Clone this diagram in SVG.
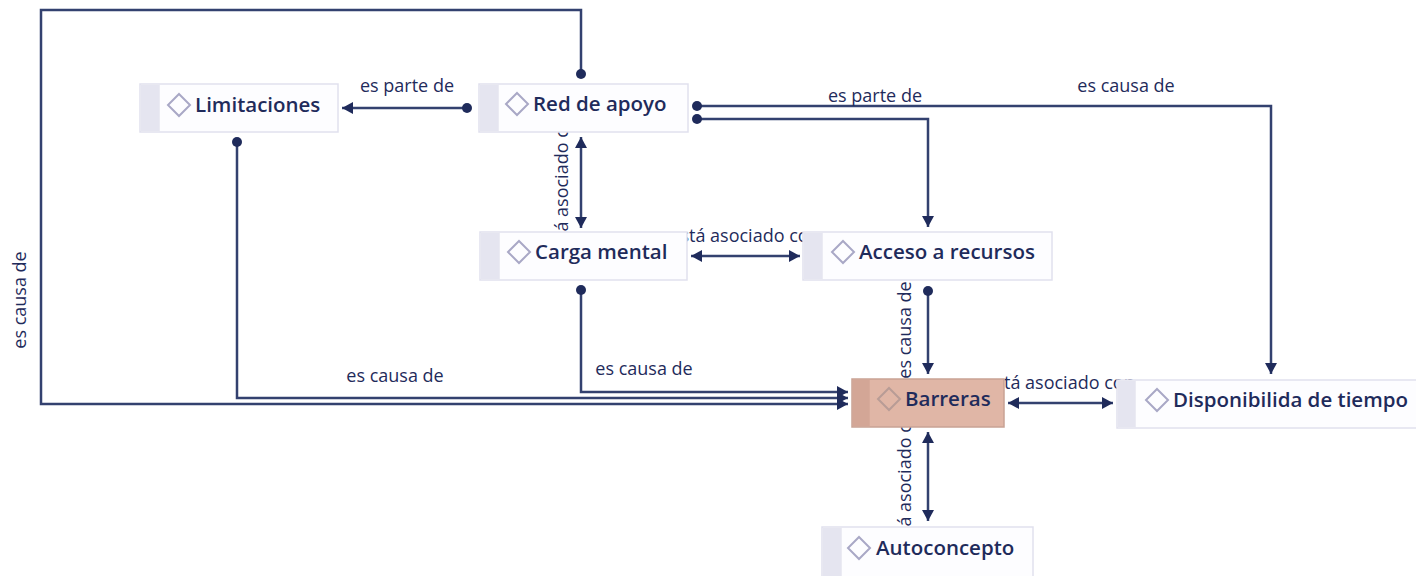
<svg xmlns="http://www.w3.org/2000/svg" width="1416" height="576" viewBox="0 0 1416 576">
<defs>
<style>
.ln{fill:none;stroke:#33416f;stroke-width:2.5}
.lb{font-family:"Open Sans","DejaVu Sans",sans-serif;font-size:18px;fill:#1f2b5b}
.nb{fill:#fdfdff;stroke:#e1e1ee;stroke-width:1.5}
.st{fill:#e5e5f0}
.dm{fill:none;stroke:#a9a8c6;stroke-width:2}
.nt{font-family:"Open Sans","DejaVu Sans",sans-serif;font-size:20.5px;font-weight:600;fill:#1f2b5b}
</style>
<marker id="ah" markerUnits="userSpaceOnUse" markerWidth="12" markerHeight="12" refX="11" refY="6" orient="auto-start-reverse"><path d="M0,0 L11,6 L0,12 z" fill="#1f2b5b"/></marker>
<marker id="dt" markerUnits="userSpaceOnUse" markerWidth="12" markerHeight="12" refX="6" refY="6"><circle cx="6" cy="6" r="5" fill="#1f2b5b"/></marker>
</defs>
<rect width="1416" height="576" fill="#ffffff"/>
<g id="connectors">
<path class="ln" d="M581,74 V10 H41 V404 H848" marker-start="url(#dt)" marker-end="url(#ah)"/>
<text class="lb" text-anchor="middle" transform="translate(26,300) rotate(-90)">es causa de</text>
<path class="ln" d="M467,108 H342" marker-start="url(#dt)" marker-end="url(#ah)"/>
<text class="lb" x="407" y="92" text-anchor="middle">es parte de</text>
<path class="ln" d="M581,137 V228" marker-start="url(#ah)" marker-end="url(#ah)"/>
<text class="lb" text-anchor="middle" transform="translate(568,182) rotate(-90)">está asociado con</text>
<path class="ln" d="M691,256 H800" marker-start="url(#ah)" marker-end="url(#ah)"/>
<text class="lb" x="745" y="242" text-anchor="middle">está asociado con</text>
<path class="ln" d="M697,106 H1271 V374" marker-start="url(#dt)" marker-end="url(#ah)"/>
<text class="lb" x="1126" y="92" text-anchor="middle">es causa de</text>
<path class="ln" d="M697,119 H928 V227" marker-start="url(#dt)" marker-end="url(#ah)"/>
<text class="lb" x="875" y="102" text-anchor="middle">es parte de</text>
<path class="ln" d="M928,291 V374" marker-start="url(#dt)" marker-end="url(#ah)"/>
<text class="lb" text-anchor="middle" transform="translate(911,330) rotate(-90)">es causa de</text>
<path class="ln" d="M1008,403 H1113" marker-start="url(#ah)" marker-end="url(#ah)"/>
<text class="lb" x="1060" y="389" text-anchor="middle">está asociado con</text>
<path class="ln" d="M928,432 V521" marker-start="url(#ah)" marker-end="url(#ah)"/>
<text class="lb" text-anchor="middle" transform="translate(911,477) rotate(-90)">está asociado con</text>
<path class="ln" d="M237,142 V398 H848" marker-start="url(#dt)" marker-end="url(#ah)"/>
<text class="lb" x="395" y="382" text-anchor="middle">es causa de</text>
<path class="ln" d="M581,290 V392 H848" marker-start="url(#dt)" marker-end="url(#ah)"/>
<text class="lb" x="644" y="375" text-anchor="middle">es causa de</text>
</g>
<g id="node-limitaciones">
<rect class="nb" x="140" y="84" width="198" height="48"/>
<rect class="st" x="140.75" y="84.75" width="19" height="46.5"/>
<path class="dm" d="M179,94 L190,105 L179,116 L168,105 z"/>
<text class="nt" x="195" y="112">Limitaciones</text>
</g>
<g id="node-red-de-apoyo">
<rect class="nb" x="479" y="84" width="209" height="48"/>
<rect class="st" x="479.75" y="84.75" width="19" height="46.5"/>
<path class="dm" d="M517,93 L528,104 L517,115 L506,104 z"/>
<text class="nt" x="533" y="111">Red de apoyo</text>
</g>
<g id="node-carga-mental">
<rect class="nb" x="480" y="232" width="207" height="48"/>
<rect class="st" x="480.75" y="232.75" width="19" height="46.5"/>
<path class="dm" d="M519,241 L530,252 L519,263 L508,252 z"/>
<text class="nt" x="535" y="259">Carga mental</text>
</g>
<g id="node-acceso-a-recursos">
<rect class="nb" x="803" y="232" width="249" height="48"/>
<rect class="st" x="803.75" y="232.75" width="19" height="46.5"/>
<path class="dm" d="M843,241 L854,252 L843,263 L832,252 z"/>
<text class="nt" x="859" y="259">Acceso a recursos</text>
</g>
<g id="node-barreras">
<rect x="852" y="379" width="152" height="48" fill="#e0b6a6" stroke="#c9a294" stroke-width="1.5"/>
<rect x="852.75" y="379.75" width="17" height="46.5" fill="#d3a696"/>
<path d="M889,388 L900,399 L889,410 L878,399 z" fill="none" stroke="#b89c96" stroke-width="2"/>
<text class="nt" x="905" y="406">Barreras</text>
</g>
<g id="node-disponibilida-de-tiempo">
<rect class="nb" x="1117" y="380" width="302" height="48"/>
<rect class="st" x="1117.75" y="380.75" width="18" height="46.5"/>
<path class="dm" d="M1157,389 L1168,400 L1157,411 L1146,400 z"/>
<text class="nt" x="1173" y="407">Disponibilida de tiempo</text>
</g>
<g id="node-autoconcepto">
<rect class="nb" x="822" y="527" width="211" height="54"/>
<rect class="st" x="822.75" y="527.75" width="19" height="52"/>
<path class="dm" d="M859,537 L870,548 L859,559 L848,548 z"/>
<text class="nt" x="876" y="555">Autoconcepto</text>
</g>
</svg>
